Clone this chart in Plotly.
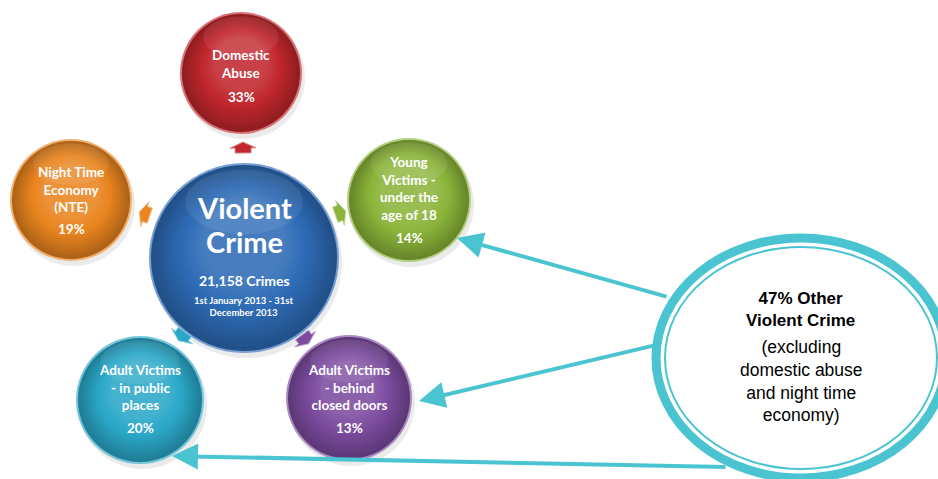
import plotly.graph_objects as go

# ---- data ----
center_title = ["Violent", "Crime"]
center_total = "21,158 Crimes"
center_period = "1st January 2013 - 31st<br>December 2013"
categories = ["Domestic<br>Abuse", "Night Time<br>Economy<br>(NTE)", "Young<br>Victims -<br>under the<br>age of 18",
              "Adult Victims<br>- behind<br>closed doors", "Adult Victims<br>- in public<br>places"]
percentages = [33, 19, 14, 13, 20]
other_pct = 47
other_title = "Other<br>Violent Crime"
other_note = "(excluding<br>domestic abuse<br>and night time<br>economy)"

# ---- layout / style (pixel positions) ----
W, H = 938, 479
cat_centers = [(241, 73), (71, 200), (409, 200), (349, 398), (140, 400)]
cat_radius = [61, 61, 62, 63, 64]
cat_colors = ["#C1272D", "#E9841F", "#8BB43A", "#7C4B9F", "#2BA8C8"]
chevron_pos = [(243, 148), (145, 214), (340, 213), (305, 339), (182, 336)]
center_pos, center_r, center_color = (244, 258), 95, "#2E6BB6"
arrow_src = [(668, 297), (656, 345), (727, 467)]
arrow_dst = [(457, 238), (419, 401), (172, 456)]
teal = "#4BC4D2"

def hex2rgb(h):
    h = h.lstrip("#")
    return tuple(int(h[i:i + 2], 16) for i in (0, 2, 4))

def mix(c, t, f):
    return "rgb(%d,%d,%d)" % tuple(round(a + (b - a) * f) for a, b in zip(c, t))

shapes = []

def glossy_circle(cx, cy, r, color):
    base = hex2rgb(color)
    shapes.append(dict(type="circle", xref="x", yref="y", x0=cx - r + 2, x1=cx + r + 3, y0=cy - r + 4, y1=cy + r + 5,
                       fillcolor="rgba(0,0,0,0.08)", line=dict(width=0), layer="below"))
    shapes.append(dict(type="circle", xref="x", yref="y", x0=cx - r, x1=cx + r, y0=cy - r, y1=cy + r,
                       fillcolor=mix(base, (255, 255, 255), 0.35), line=dict(width=0), layer="below"))
    dark = tuple(max(0, int(v * 0.75)) for v in base)
    n = 18
    for i in range(n):
        f = i / (n - 1)
        rr = (r - 2) * (1 - 0.55 * f)
        oy = -0.15 * r * f
        col = mix(dark, base, min(1, f * 1.7)) if f < 0.6 else mix(base, (255, 255, 255), (f - 0.6) * 0.3)
        shapes.append(dict(type="circle", xref="x", yref="y", x0=cx - rr, x1=cx + rr, y0=cy + oy - rr, y1=cy + oy + rr,
                           fillcolor=col, line=dict(width=0), layer="below"))
    shapes.append(dict(type="circle", xref="x", yref="y", x0=cx - r * 0.62, x1=cx + r * 0.62, y0=cy - r * 0.93, y1=cy - r * 0.25,
                       fillcolor="rgba(255,255,255,0.08)", line=dict(width=0), layer="below"))

glossy_circle(center_pos[0], center_pos[1], center_r, center_color)
for (cx, cy), r, c in zip(cat_centers, cat_radius, cat_colors):
    glossy_circle(cx, cy, r, c)

# small block arrows between centre and categories
for (x, y), (tx, ty), c in zip(chevron_pos, cat_centers, cat_colors):
    dx, dy = tx - center_pos[0], ty - center_pos[1]
    n = (dx * dx + dy * dy) ** 0.5
    dx, dy = dx / n, dy / n
    px, py = -dy, dx
    def P(u, v):
        return (x + dx * u + px * v, y + dy * u + py * v)
    pts = [P(-5, -8), P(0, -8), P(0, -13), P(6, 0), P(0, 13), P(0, 8), P(-5, 8)]
    path = "M " + " L ".join("%.1f,%.1f" % p for p in pts) + " Z"
    shapes.append(dict(type="path", xref="x", yref="y", path=path, fillcolor=c,
                       line=dict(color=mix(hex2rgb(c), (255, 255, 255), 0.45), width=1), layer="below"))

# big ellipse callout
ex0, ex1, ey0, ey1 = 656, 946, 238, 478
shapes.append(dict(type="circle", xref="x", yref="y", x0=ex0, x1=ex1, y0=ey0, y1=ey1,
                   fillcolor="white", line=dict(color=teal, width=9), layer="above"))
shapes.append(dict(type="circle", xref="x", yref="y", x0=ex0 + 9, x1=ex1 - 9, y0=ey0 + 9, y1=ey1 - 9,
                   fillcolor="rgba(0,0,0,0)", line=dict(color=teal, width=2), layer="above"))

annotations = []
for (sx, sy), (tx, ty) in zip(arrow_src, arrow_dst):
    annotations.append(dict(x=tx, y=ty, ax=sx, ay=sy, xref="x", yref="y", axref="x", ayref="y", text="",
                            showarrow=True, arrowhead=2, arrowsize=1.3, arrowwidth=4, arrowcolor=teal, standoff=0))

F = "Lato, 'Open Sans', sans-serif"
for word, yy in zip(center_title, [207, 241]):
    annotations.append(dict(x=center_pos[0], y=yy, text="<b>" + word + "</b>", showarrow=False,
                            font=dict(family=F, size=29, color="white"), xref="x", yref="y"))
annotations += [
    dict(x=center_pos[0], y=280, text="<b>" + center_total + "</b>", showarrow=False,
         font=dict(family=F, size=14, color="white"), xref="x", yref="y"),
    dict(x=center_pos[0], y=306, text="<b>" + center_period + "</b>", showarrow=False,
         font=dict(family=F, size=9.5, color="white"), xref="x", yref="y"),
]
text_offsets = [(-9.5, 24), (-11, 29), (-11.5, 38), (-11, 30), (-12.5, 28)]
for (cx, cy), lab, p, (o1, o2) in zip(cat_centers, categories, percentages, text_offsets):
    annotations.append(dict(x=cx, y=cy + o1, text="<b>" + lab + "</b>", showarrow=False,
                            font=dict(family=F, size=13.5, color="white"), xref="x", yref="y"))
    annotations.append(dict(x=cx, y=cy + o2, text="<b>%d%%</b>" % p, showarrow=False,
                            font=dict(family=F, size=13.5, color="white"), xref="x", yref="y"))

A = "'Liberation Sans', Arial, sans-serif"
annotations.append(dict(x=800, y=309, text="<b>%d%% %s</b>" % (other_pct, other_title), showarrow=False,
                        font=dict(family=A, size=17, color="black"), xref="x", yref="y"))
annotations.append(dict(x=801, y=381, text=other_note, showarrow=False,
                        font=dict(family=A, size=17.5, color="black"), xref="x", yref="y"))

fig = go.Figure()
fig.update_layout(
    width=W, height=H, margin=dict(l=0, r=0, t=0, b=0),
    paper_bgcolor="white", plot_bgcolor="white",
    xaxis=dict(range=[0, W], visible=False, fixedrange=True),
    yaxis=dict(range=[H, 0], visible=False, fixedrange=True),
    shapes=shapes, annotations=annotations, showlegend=False,
)
fig.write_html("out.html")
